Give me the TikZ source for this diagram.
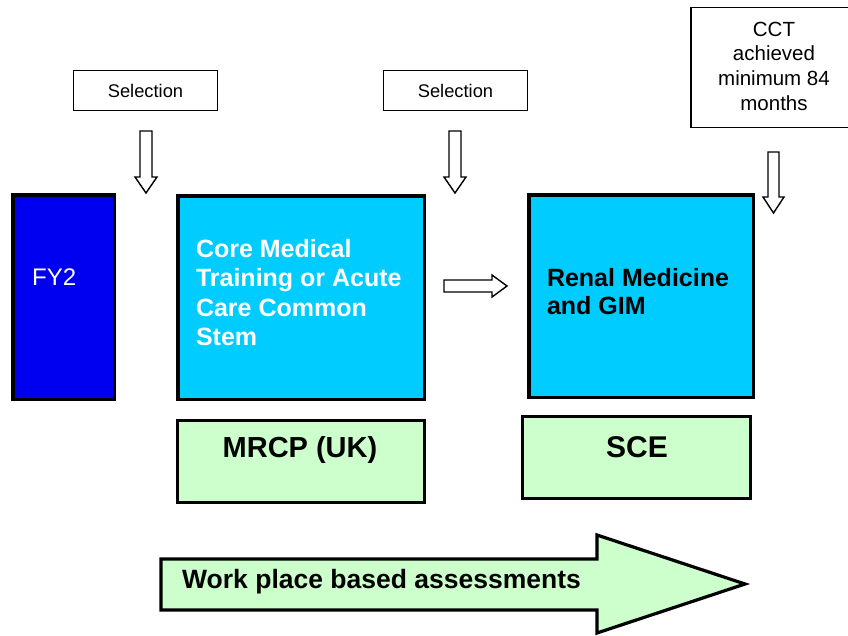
\documentclass[tikz,border=0pt]{standalone}
\usepackage{fontspec}
\setmainfont{Liberation Sans}
\begin{document}
\begin{tikzpicture}[x=1pt,y=-1pt,
  thinbox/.style={draw=black, line width=1.3pt, fill=white, inner sep=0pt, outer sep=0pt},
  fybox/.style={draw=black, line width=3.5pt, fill={rgb,255:red,0;green,0;blue,240}, inner sep=0pt, outer sep=0pt},
  cyanbox/.style={draw=black, line width=3.5pt, fill={rgb,255:red,0;green,204;blue,255}, inner sep=0pt, outer sep=0pt},
  greenbox/.style={draw=black, line width=3.2pt, fill={rgb,255:red,204;green,255;blue,204}, inner sep=0pt, outer sep=0pt},
  hollowarrow/.style={draw=black, line width=1.4pt, fill=white, line join=miter},
  bigarrow/.style={draw=black, line width=3.2pt, fill={rgb,255:red,204;green,255;blue,204}, line join=miter},
  lbl/.style={inner sep=0pt, outer sep=0pt, font=\fontsize{18.3}{22}\selectfont},
  bold/.style={inner sep=0pt, outer sep=0pt, align=left, font=\bfseries\fontsize{25}{29.5}\selectfont}
]
\useasboundingbox (0,0) rectangle (848,635);
\clip (0,0) rectangle (848,635);

% top label boxes
\node[thinbox, minimum width=143.7, minimum height=39.7] (sel1) at (145.5,90.5) {};
\node[lbl] at (sel1.center) {Selection};
\node[thinbox, minimum width=143.7, minimum height=39.7] (sel2) at (455.5,90.5) {};
\node[lbl] at (sel2.center) {Selection};
\node[thinbox, minimum width=166, minimum height=119.7] (cct) at (774,67.5) {};
\node[lbl, align=center, font=\fontsize{20.5}{24.7}\selectfont] at (774,66) {CCT\\achieved\\minimum 84\\months};

% main boxes
\node[fybox, minimum width=101.5, minimum height=204.5] (fy2) at (63.5,297) {};
\node[inner sep=0pt, anchor=west, text=white, font=\fontsize{24}{28}\selectfont] at (32,277) {FY2};

\node[cyanbox, minimum width=246.5, minimum height=203.5] (cmt) at (301,297.5) {};
\node[bold, anchor=west, text=white] at (196,292.5) {Core Medical\\Training or Acute\\Care Common\\Stem};

\node[cyanbox, minimum width=224.5, minimum height=202.5] (renal) at (641,296) {};
\node[bold, anchor=west, text=black, font=\bfseries\fontsize{25}{28}\selectfont] at (547,292) {Renal Medicine\\and GIM};

\node[greenbox, minimum width=246.8, minimum height=81.8] (mrcp) at (301,461.5) {};
\node[inner sep=0pt, font=\bfseries\fontsize{29}{34}\selectfont] at (300,450) {MRCP (UK)};

\node[greenbox, minimum width=227.8, minimum height=81.8] (sce) at (636.5,457.5) {};
\node[inner sep=0pt, font=\bfseries\fontsize{30}{34}\selectfont] at (637,447) {SCE};

% hollow arrows
\coordinate (a1) at (146,131);
\draw[hollowarrow] (a1) ++(-6,0) -- ++(12,0) -- ++(0,46) -- ++(5,0) -- (146,193) -- (135,177) -- (140,177) -- cycle;
\coordinate (a2) at (455,131);
\draw[hollowarrow] (a2) ++(-6,0) -- ++(12,0) -- ++(0,46) -- ++(5,0) -- (455,193) -- (444,177) -- (449,177) -- cycle;
\coordinate (a3) at (773.5,152);
\draw[hollowarrow] (a3) ++(-5.5,0) -- ++(11,0) -- ++(0,45) -- ++(5,0) -- (773.5,213) -- (763,197) -- (768,197) -- cycle;
\coordinate (h1) at (444,286);
\draw[hollowarrow] (h1) ++(0,-6) -- ++(48,0) -- ++(0,-5) -- (507,286) -- (492,297) -- (492,292) -- (444,292) -- cycle;

% big arrow
\draw[bigarrow] (161,559) -- (597,559) -- (597,535) -- (745,584) -- (597,633) -- (597,610) -- (161,610) -- cycle;
\node[inner sep=0pt, anchor=west, font=\bfseries\fontsize{26.5}{30}\selectfont] (wpba) at (182,582) {Work place based assessments};
\end{tikzpicture}
\end{document}
